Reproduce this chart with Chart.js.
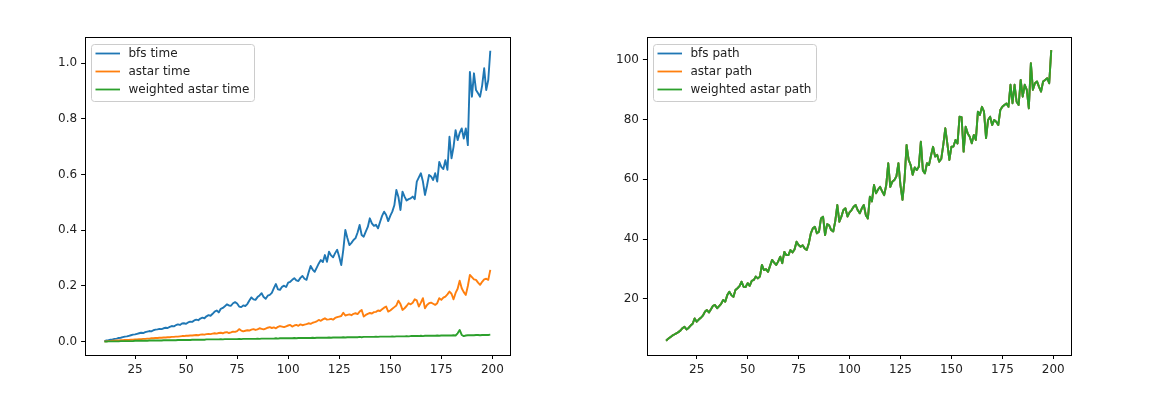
<!DOCTYPE html>
<html>
<head>
<meta charset="utf-8">
<script src="https://cdn.jsdelivr.net/npm/chart.js@4.4.1/dist/chart.umd.min.js"></script>
<style>
  body { margin: 0; background: #fff; }
  #wrap { position: relative; width: 1172px; height: 394px; }
  canvas { position: absolute; top: 0; }
</style>
</head>
<body>
<div id="wrap">
  <canvas id="timeChart" width="586" height="394" style="left:0"></canvas>
  <canvas id="pathChart" width="586" height="394" style="left:586px"></canvas>
</div>
<script>
// grid sizes (x axis)
const sizes = [
  10,11,12,13,14,15,16,17,18,19, 20,21,22,23,24,25,26,27,28,29,
  30,31,32,33,34,35,36,37,38,39, 40,41,42,43,44,45,46,47,48,49,
  50,51,52,53,54,55,56,57,58,59, 60,61,62,63,64,65,66,67,68,69,
  70,71,72,73,74,75,76,77,78,79, 80,81,82,83,84,85,86,87,88,89,
  90,91,92,93,94,95,96,97,98,99, 100,101,102,103,104,105,106,107,108,109,
  110,111,112,113,114,115,116,117,118,119, 120,121,122,123,124,125,126,127,128,129,
  130,131,132,133,134,135,136,137,138,139, 140,141,142,143,144,145,146,147,148,149,
  150,151,152,153,154,155,156,157,158,159, 160,161,162,163,164,165,166,167,168,169,
  170,171,172,173,174,175,176,177,178,179, 180,181,182,183,184,185,186,187,188,189,
  190,191,192,193,194,195,196,197,198,199
];

// left plot: run time (s)
const bfsTime = [
  0.002,0.004,0.005,0.007,0.008,0.010,0.011,0.013,0.014,0.016,
  0.018,0.019,0.021,0.023,0.025,0.026,0.028,0.030,0.032,0.031,
  0.034,0.036,0.038,0.037,0.041,0.043,0.044,0.046,0.045,0.048,
  0.050,0.049,0.053,0.056,0.055,0.059,0.062,0.060,0.065,0.066,
  0.064,0.069,0.072,0.071,0.076,0.079,0.077,0.083,0.086,0.084,
  0.091,0.095,0.093,0.100,0.108,0.112,0.105,0.118,0.121,0.127,
  0.134,0.130,0.129,0.138,0.142,0.137,0.126,0.124,0.130,0.128,
  0.135,0.148,0.159,0.152,0.150,0.160,0.166,0.174,0.160,0.154,
  0.165,0.168,0.175,0.192,0.207,0.188,0.186,0.197,0.201,0.196,
  0.212,0.215,0.222,0.228,0.220,0.218,0.229,0.236,0.226,0.222,
  0.248,0.272,0.259,0.251,0.266,0.281,0.293,0.286,0.311,0.287,
  0.323,0.310,0.303,0.318,0.330,0.305,0.275,0.330,0.401,0.372,
  0.347,0.355,0.365,0.372,0.392,0.419,0.383,0.377,0.395,0.412,
  0.443,0.425,0.416,0.420,0.407,0.430,0.452,0.467,0.455,0.433,
  0.452,0.467,0.490,0.545,0.520,0.473,0.539,0.521,0.507,0.512,
  0.515,0.521,0.512,0.575,0.590,0.605,0.575,0.527,0.560,0.599,
  0.593,0.581,0.605,0.575,0.646,0.628,0.620,0.652,0.617,0.736,
  0.659,0.700,0.760,0.724,0.750,0.766,0.730,0.766,0.706,0.969,
  0.880,0.964,0.904,0.892,0.880,0.920,0.982,0.904,0.940,1.045
];
const astarTime = [
  0.001,0.001,0.002,0.002,0.003,0.003,0.004,0.004,0.005,0.005,
  0.006,0.006,0.006,0.007,0.007,0.008,0.008,0.009,0.009,0.010,
  0.010,0.011,0.011,0.012,0.012,0.013,0.013,0.014,0.014,0.015,
  0.015,0.016,0.016,0.017,0.017,0.018,0.018,0.019,0.020,0.020,
  0.021,0.021,0.022,0.022,0.023,0.024,0.023,0.025,0.026,0.025,
  0.027,0.028,0.027,0.029,0.030,0.029,0.031,0.032,0.030,0.033,
  0.034,0.031,0.033,0.036,0.035,0.038,0.045,0.040,0.037,0.039,
  0.041,0.040,0.043,0.045,0.042,0.044,0.048,0.046,0.044,0.047,
  0.050,0.052,0.049,0.051,0.048,0.053,0.056,0.054,0.052,0.055,
  0.058,0.060,0.054,0.058,0.060,0.057,0.062,0.059,0.061,0.063,
  0.066,0.064,0.068,0.070,0.073,0.078,0.075,0.080,0.084,0.079,
  0.080,0.082,0.079,0.085,0.088,0.090,0.092,0.104,0.094,0.096,
  0.098,0.095,0.100,0.102,0.099,0.108,0.114,0.090,0.096,0.100,
  0.103,0.101,0.106,0.107,0.112,0.110,0.116,0.122,0.126,0.108,
  0.112,0.118,0.124,0.130,0.147,0.135,0.114,0.120,0.128,0.138,
  0.134,0.140,0.152,0.148,0.126,0.140,0.156,0.120,0.132,0.138,
  0.140,0.136,0.132,0.138,0.156,0.150,0.158,0.162,0.170,0.180,
  0.172,0.152,0.175,0.190,0.219,0.192,0.178,0.168,0.200,0.240,
  0.232,0.224,0.222,0.212,0.204,0.215,0.224,0.226,0.222,0.258
];
const weightedTime = [
  0.000,0.000,0.001,0.001,0.001,0.001,0.001,0.001,0.002,0.002,
  0.002,0.002,0.002,0.002,0.002,0.003,0.003,0.003,0.003,0.003,
  0.003,0.003,0.004,0.004,0.004,0.004,0.004,0.004,0.004,0.005,
  0.005,0.005,0.005,0.005,0.005,0.005,0.006,0.006,0.006,0.006,
  0.006,0.006,0.006,0.007,0.007,0.007,0.007,0.007,0.007,0.007,
  0.008,0.008,0.008,0.008,0.008,0.008,0.008,0.009,0.008,0.009,
  0.009,0.009,0.009,0.009,0.009,0.009,0.010,0.009,0.010,0.010,
  0.010,0.010,0.010,0.010,0.010,0.011,0.010,0.011,0.011,0.011,
  0.011,0.011,0.011,0.011,0.012,0.011,0.012,0.012,0.012,0.012,
  0.012,0.012,0.012,0.013,0.012,0.013,0.013,0.013,0.013,0.013,
  0.013,0.013,0.014,0.013,0.014,0.014,0.014,0.014,0.014,0.014,
  0.015,0.014,0.015,0.015,0.015,0.015,0.015,0.016,0.015,0.016,
  0.016,0.016,0.016,0.016,0.016,0.017,0.016,0.017,0.017,0.017,
  0.017,0.017,0.017,0.018,0.017,0.018,0.018,0.018,0.018,0.018,
  0.018,0.019,0.018,0.019,0.019,0.019,0.019,0.019,0.020,0.019,
  0.020,0.020,0.020,0.020,0.020,0.021,0.020,0.021,0.021,0.021,
  0.021,0.021,0.021,0.022,0.021,0.022,0.022,0.022,0.022,0.022,
  0.022,0.023,0.022,0.030,0.042,0.024,0.020,0.022,0.023,0.023,
  0.023,0.023,0.024,0.024,0.023,0.024,0.024,0.024,0.024,0.025
];

// right plot: path length (all three searches give the same path, green drawn on top)
const pathLen = [
  5.9,6.6,7.1,7.6,8.0,8.4,8.8,9.3,10.1,10.6,
  9.7,10.2,11.0,11.6,13.4,12.3,13.0,13.6,14.3,15.6,
  16.2,15.4,16.5,17.6,17.9,16.8,17.5,18.3,19.6,19.0,
  21.2,22.3,21.2,20.6,22.9,23.5,24.2,25.7,24.0,23.9,
  25.2,24.3,26.0,26.3,27.4,26.8,27.4,31.3,29.6,29.9,
  29.0,31.0,33.0,32.1,31.3,32.5,34.1,31.9,35.7,34.6,
  34.6,36.3,35.5,36.5,39.1,38.0,37.4,37.9,36.8,36.3,
  38.5,41.9,43.6,44.1,41.9,42.4,46.9,47.5,41.3,45.0,
  44.6,43.0,42.5,46.0,51.4,45.8,47.5,49.7,50.3,47.5,
  48.9,49.7,50.8,51.4,49.7,48.6,50.2,51.4,48.0,46.9,
  54.2,52.6,58.1,55.3,56.6,57.5,56.0,54.7,58.0,65.4,
  57.5,59.2,59.8,61.0,65.4,58.0,53.1,60.0,71.5,66.5,
  64.8,61.5,64.0,63.1,64.2,72.6,63.0,62.0,65.4,64.8,
  68.0,70.9,67.6,68.2,65.9,66.8,71.5,77.1,72.0,66.5,
  70.9,71.0,73.2,72.0,81.0,80.8,69.3,77.6,75.4,74.3,
  72.1,74.9,73.2,82.7,81.6,84.3,82.7,73.8,79.9,81.0,
  78.2,79.9,79.3,78.2,83.2,84.3,84.9,85.4,84.3,91.7,
  85.5,91.7,86.0,84.9,93.3,87.7,91.7,90.0,83.8,98.9,
  90.0,92.2,92.8,91.0,89.4,92.8,93.3,93.9,92.2,103.3
];
const bfsPath = pathLen;
const astarPath = pathLen;
const weightedPath = pathLen;

const xTicks = [25, 50, 75, 100, 125, 150, 175, 200];
const timeTicks = [0.0, 0.2, 0.4, 0.6, 0.8, 1.0];
const pathTicks = [20, 40, 60, 80, 100];

const BLUE = '#1f77b4', ORANGE = '#ff7f0e', GREEN = '#2ca02c';
const FONT = { family: '"DejaVu Sans", sans-serif', size: 12 };

// black box round the plot area, like the matplotlib spines
const framePlugin = {
  id: 'frame',
  afterDatasetsDraw(chart) {
    const ctx = chart.ctx, a = chart.chartArea;
    ctx.save();
    ctx.strokeStyle = '#000';
    ctx.lineWidth = 1;
    ctx.strokeRect(Math.round(a.left) + 0.5, Math.round(a.top) + 0.5,
      Math.round(a.right - a.left), Math.round(a.bottom - a.top));
    ctx.restore();
  }
};

// upper left legend box
const legendPlugin = {
  id: 'mplLegend',
  afterDraw(chart) {
    const ctx = chart.ctx, a = chart.chartArea;
    const x0 = Math.round(a.left) + 6.5, y0 = Math.round(a.top) + 7.5;
    ctx.save();
    ctx.font = '12px "DejaVu Sans", sans-serif';
    const labels = chart.data.datasets.map(d => d.label);
    const tw = Math.max(...labels.map(t => ctx.measureText(t).width));
    const w = Math.round(37 + tw + 5), h = 57, r = 3;
    ctx.beginPath();
    ctx.moveTo(x0 + r, y0);
    ctx.arcTo(x0 + w, y0, x0 + w, y0 + h, r);
    ctx.arcTo(x0 + w, y0 + h, x0, y0 + h, r);
    ctx.arcTo(x0, y0 + h, x0, y0, r);
    ctx.arcTo(x0, y0, x0 + w, y0, r);
    ctx.closePath();
    ctx.fillStyle = 'rgba(255,255,255,0.8)';
    ctx.fill();
    ctx.strokeStyle = '#cccccc';
    ctx.lineWidth = 1;
    ctx.stroke();
    chart.data.datasets.forEach((d, i) => {
      const y = y0 + 9 + i * 18;
      ctx.beginPath();
      ctx.strokeStyle = d.borderColor;
      ctx.lineWidth = 1.8;
      ctx.moveTo(x0 + 4, y);
      ctx.lineTo(x0 + 28.5, y);
      ctx.stroke();
      ctx.fillStyle = '#222';
      ctx.textBaseline = 'middle';
      ctx.fillText(d.label, x0 + 37, y + 0.5);
    });
    ctx.restore();
  }
};

function lineSet(label, color, values, order) {
  return {
    label: label,
    borderColor: color,
    backgroundColor: color,
    data: sizes.map((x, i) => ({ x: x, y: values[i] })),
    borderWidth: 1.9,
    borderJoinStyle: 'round',
    pointRadius: 0,
    tension: 0,
    fill: false,
    order: order,
  };
}

function drawPlot(canvasId, datasets, yMin, yMax, yTicks, yFormat, padLeft, padRight) {
  const tickGrid = {
    display: true,
    drawOnChartArea: false,
    drawTicks: true,
    tickLength: 4,
    tickColor: '#000',
    tickWidth: 1,
  };
  const config = {
    type: 'line',
    data: { datasets: datasets },
    options: {
      responsive: false,
      animation: false,
      devicePixelRatio: 1,
      layout: { padding: { left: 0, top: 37, right: padRight, bottom: 0 } },
      plugins: { legend: { display: false }, tooltip: { enabled: false } },
      scales: {
        x: {
          type: 'linear',
          min: 0.55,
          max: 208.45,
          afterFit: (s) => { s.height = 39; },
          afterBuildTicks: (s) => { s.ticks = xTicks.map(v => ({ value: v })); },
          grid: tickGrid,
          border: { display: false },
          ticks: { font: FONT, color: '#222', padding: 4, maxRotation: 0, autoSkip: false,
                   callback: (v) => String(v) },
        },
        y: {
          type: 'linear',
          min: yMin,
          max: yMax,
          afterFit: (s) => { s.width = padLeft; },
          afterBuildTicks: (s) => { s.ticks = yTicks.map(v => ({ value: v })); },
          grid: tickGrid,
          border: { display: false },
          ticks: { font: FONT, color: '#222', padding: 4, autoSkip: false, callback: yFormat },
        },
      },
    },
    plugins: [framePlugin, legendPlugin],
  };
  return new Chart(document.getElementById(canvasId), config);
}

drawPlot('timeChart', [
  lineSet('bfs time', BLUE, bfsTime, 2),
  lineSet('astar time', ORANGE, astarTime, 1),
  lineSet('weighted astar time', GREEN, weightedTime, 0),
], -0.048, 1.0945, timeTicks, (v) => v.toFixed(1), 85.1, 586 - 509.6);

drawPlot('pathChart', [
  lineSet('bfs path', BLUE, bfsPath, 2),
  lineSet('astar path', ORANGE, astarPath, 1),
  lineSet('weighted astar path', GREEN, weightedPath, 0),
], 1.13, 107.7, pathTicks, (v) => String(v), 646.9 - 586, 586 - 484.5);
</script>
</body>
</html>
